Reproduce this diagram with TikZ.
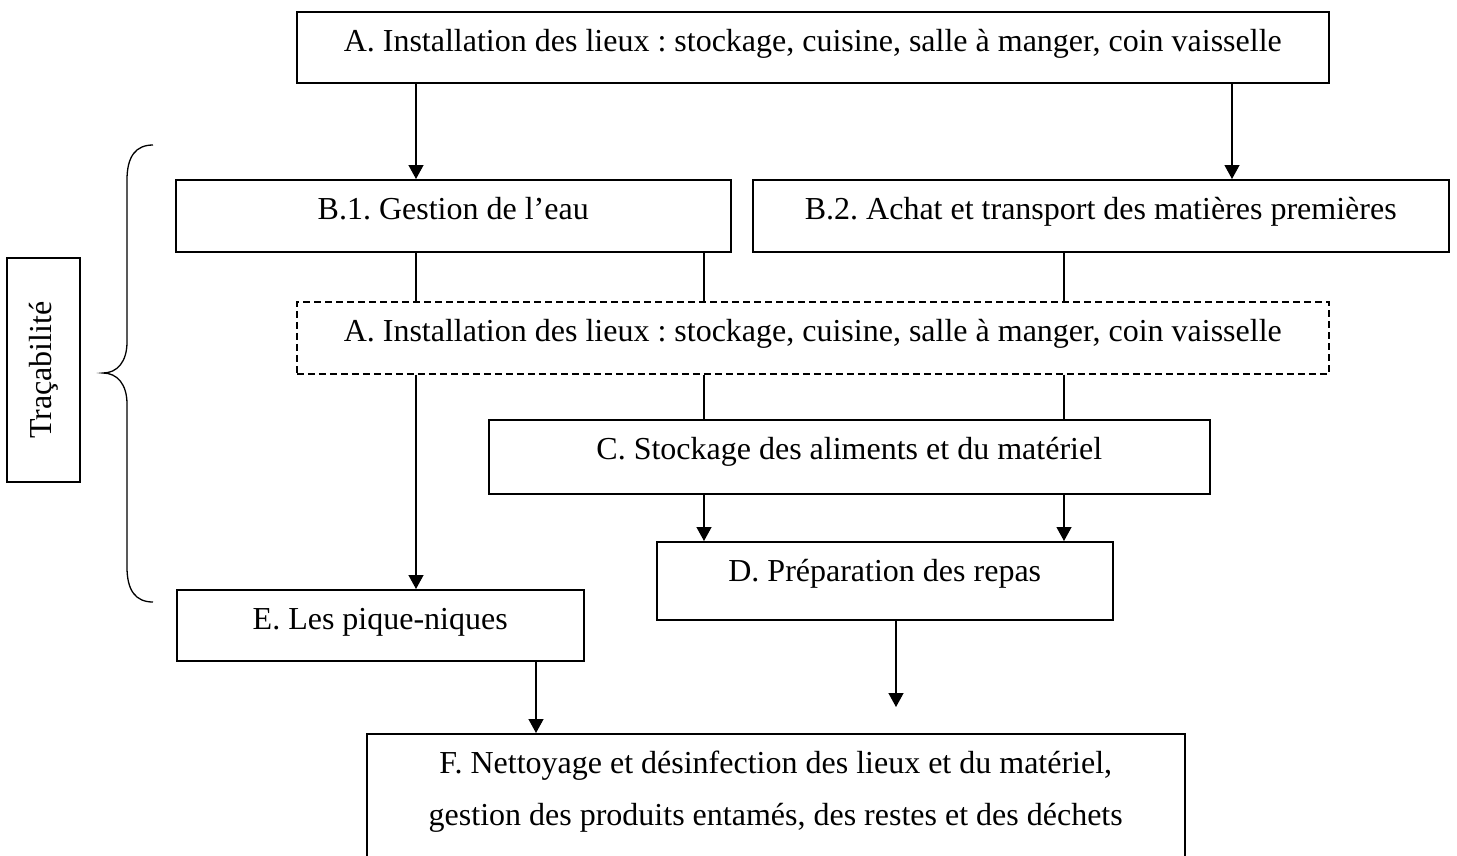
\documentclass[tikz,border=0pt]{standalone}
\usepackage{fontspec}
\setmainfont{Liberation Serif}
\usetikzlibrary{arrows.meta}
\frenchspacing
\begin{document}
\begin{tikzpicture}[x=1pt,y=-1pt,
  box/.style={draw, line width=1.5pt, inner sep=0pt, text height=40pt, anchor=north west, font=\fontsize{32}{52}\selectfont\frenchspacing},
  dashbox/.style={box, dash pattern=on 7pt off 4pt},
  arr/.style={line width=1.3pt, -{Triangle[width=15pt,length=14pt]}},
  ln/.style={line width=1.3pt},
  brace/.style={line width=1.3pt}]
\useasboundingbox (0,0) rectangle (1457,855);

\coordinate (xa) at (416,0);
\coordinate (xb) at (1232,0);
\coordinate (xc) at (704,0);
\coordinate (xd) at (1064,0);
\coordinate (xe) at (536,0);
\coordinate (xf) at (896,0);

\node[box, minimum width=1032pt, text depth=31pt] (A) at (296,11) {A. Installation des lieux : stockage, cuisine, salle à manger, coin vaisselle};
\node[box, minimum width=555pt, text depth=32pt] (B1) at (175,179) {B.1. Gestion de l’eau};
\node[box, minimum width=696pt, text depth=32pt] (B2) at (752,179) {B.2. Achat et transport des matières premières};
\node[dashbox, minimum width=1032pt, text depth=32pt] (A2) at (296,301) {A. Installation des lieux : stockage, cuisine, salle à manger, coin vaisselle};
\node[box, minimum width=721pt, text depth=34pt] (C) at (488,419) {C. Stockage des aliments et du matériel};
\node[box, minimum width=456pt, text depth=38pt] (D) at (656,541) {D. Préparation des repas};
\node[box, minimum width=407pt, text depth=31pt] (E) at (176,589) {E. Les pique-niques};
\node[box, minimum width=818pt, text depth=90pt] (F) at (366,733) {\begin{tabular}[t]{@{}c@{}}F. Nettoyage et désinfection des lieux et du matériel,\\ gestion des produits entamés, des restes et des déchets\end{tabular}};
\node[draw, line width=1.5pt, rotate=90, minimum width=224pt, minimum height=73pt, inner sep=0pt, font=\fontsize{32}{40}\selectfont] (T) at (43.5,370) {Traçabilité};

\coordinate (dend) at (896,707);

\draw[arr] (A.south -| xa) -- (B1.north -| xa);
\draw[arr] (A.south -| xb) -- (B2.north -| xb);
\draw[ln] (B1.south -| xa) -- (A2.north -| xa);
\draw[ln] (B1.south -| xc) -- (A2.north -| xc);
\draw[ln] (B2.south -| xd) -- (A2.north -| xd);
\draw[arr] (A2.south -| xa) -- (E.north -| xa);
\draw[ln] (A2.south -| xc) -- (C.north -| xc);
\draw[ln] (A2.south -| xd) -- (C.north -| xd);
\draw[arr] (C.south -| xc) -- (D.north -| xc);
\draw[arr] (C.south -| xd) -- (D.north -| xd);
\draw[arr] (E.south -| xe) -- (F.north -| xe);
\draw[arr] (D.south -| xf) -- (dend);

\draw[brace] (153,145) .. controls (136,145) and (127,156) .. (127,180) -- (127,342)
  .. controls (127,362) and (117,373) .. (103,373)
  .. controls (117,373) and (127,384) .. (127,404) -- (127,567)
  .. controls (127,591) and (136,602) .. (153,602);
\end{tikzpicture}
\end{document}
